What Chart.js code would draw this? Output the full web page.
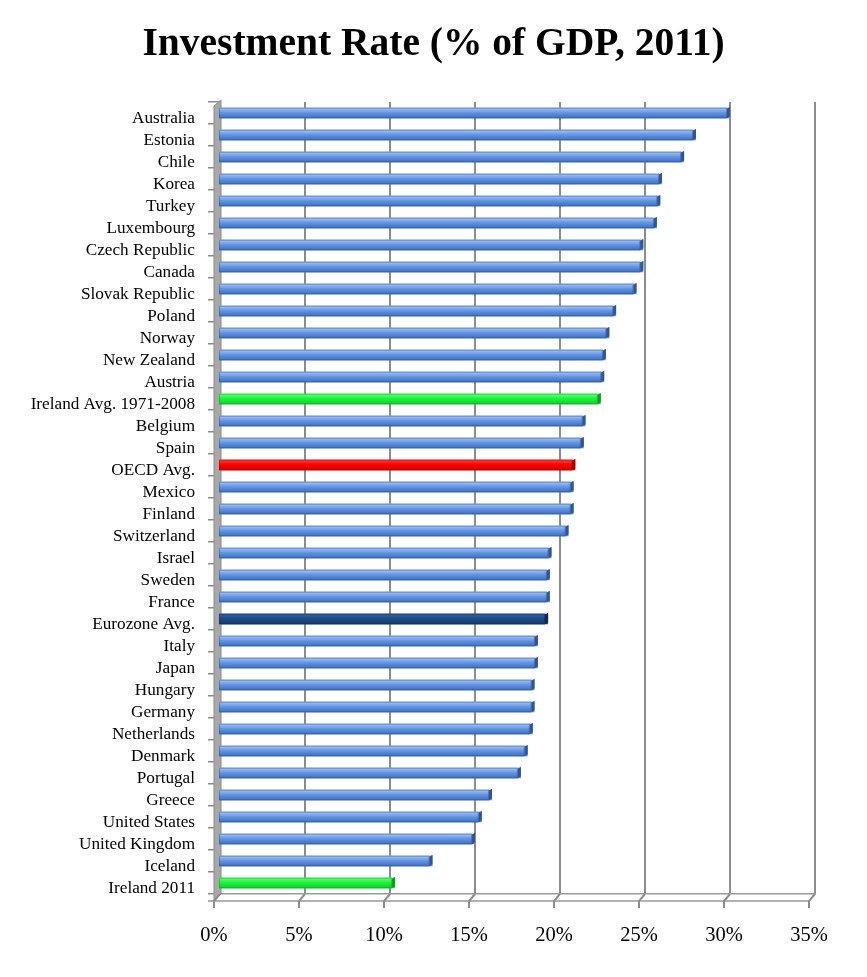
<!DOCTYPE html>
<html>
<head>
<meta charset="utf-8">
<script src="https://cdn.jsdelivr.net/npm/chart.js@4.4.1/dist/chart.umd.min.js"></script>
<style>
  body { margin: 0; background: #fff; }
  #wrap { width: 867px; height: 977px; }
</style>
</head>
<body>
<div id="wrap"><canvas id="myChart"></canvas></div>
<script>
// data
const countries = [
  "Australia", "Estonia", "Chile", "Korea", "Turkey", "Luxembourg",
  "Czech Republic", "Canada", "Slovak Republic", "Poland", "Norway",
  "New Zealand", "Austria", "Ireland Avg. 1971-2008", "Belgium", "Spain",
  "OECD Avg.", "Mexico", "Finland", "Switzerland", "Israel", "Sweden",
  "France", "Eurozone Avg.", "Italy", "Japan", "Hungary", "Germany",
  "Netherlands", "Denmark", "Portugal", "Greece", "United States",
  "United Kingdom", "Iceland", "Ireland 2011"
];
const investRate = [
  30.0, 28.0, 27.3, 26.0, 25.9, 25.7,
  24.9, 24.9, 24.5, 23.3, 22.9,
  22.7, 22.6, 22.4, 21.5, 21.4,
  20.9, 20.8, 20.8, 20.5, 19.5, 19.4,
  19.4, 19.3, 18.7, 18.7, 18.5, 18.5,
  18.4, 18.1, 17.7, 16.0, 15.4,
  15.0, 12.5, 10.3
];
const xTicks = [0, 5, 10, 15, 20, 25, 30, 35];
const chartTitle = "Investment Rate (% of GDP, 2011)";

// colour scheme per kind of bar
const shades = {
  blue:  { top: "#a9c6f5", mid: "#6697e3", bot: "#3b6cc0", cap: "#2f5595", base: "#5b8ede" },
  green: { top: "#6dff7e", mid: "#1af53a", bot: "#12cc2e", cap: "#0d9a22", base: "#1af53a" },
  red:   { top: "#ff4a4a", mid: "#ff0000", bot: "#d40000", cap: "#9e0000", base: "#ff0000" },
  navy:  { top: "#3565a6", mid: "#1f4a86", bot: "#163a6c", cap: "#0f2a50", base: "#1f4a86" }
};
function kindOf(name) {
  if (name.indexOf("Ireland") === 0) return "green";
  if (name === "OECD Avg.") return "red";
  if (name === "Eurozone Avg.") return "navy";
  return "blue";
}

const serif = "'Liberation Serif', 'DejaVu Serif', serif";

// grey side wall, floor edge, shaded bar faces and the page-centred title
const decor = {
  id: "decor",
  beforeDatasetsDraw(chart) {
    const { ctx, chartArea: a } = chart;
    const xs = chart.scales.x;
    ctx.save();
    // left wall
    ctx.beginPath();
    ctx.moveTo(a.left - 6, a.top + 4);
    ctx.lineTo(a.left + 1, a.top - 2);
    ctx.lineTo(a.left + 1, a.bottom);
    ctx.lineTo(a.left - 6, a.bottom + 7);
    ctx.closePath();
    ctx.fillStyle = "#a8a8a8";
    ctx.fill();
    ctx.strokeStyle = "#8a8a8a";
    ctx.lineWidth = 1;
    ctx.stroke();
    // floor front edge
    ctx.strokeStyle = "#999";
    ctx.lineWidth = 1.5;
    ctx.beginPath();
    ctx.moveTo(a.left - 12, a.bottom + 7);
    ctx.lineTo(a.right - 6, a.bottom + 7);
    ctx.stroke();
    ctx.strokeStyle = "#8c8c8c";
    ctx.lineWidth = 2;
    xTicks.forEach(v => {
      const x = xs.getPixelForValue(v);
      ctx.beginPath();
      ctx.moveTo(x, a.bottom);
      ctx.lineTo(x - 6, a.bottom + 7);
      ctx.lineTo(x - 6, a.bottom + 14);
      ctx.stroke();
    });
    ctx.restore();
  },
  afterDatasetsDraw(chart) {
    const { ctx } = chart;
    const meta = chart.getDatasetMeta(0);
    ctx.save();
    meta.data.forEach((bar, i) => {
      const s = shades[kindOf(countries[i])];
      const h = bar.height;
      const y0 = bar.y - h / 2;
      const x0 = bar.base;
      const x1 = bar.x;
      const g = ctx.createLinearGradient(0, y0, 0, y0 + h);
      g.addColorStop(0, s.top);
      g.addColorStop(0.45, s.mid);
      g.addColorStop(1, s.bot);
      ctx.fillStyle = g;
      ctx.fillRect(x0 - 2, y0, x1 - x0 - 1, h);
      ctx.strokeStyle = s.cap;
      ctx.globalAlpha = 0.5;
      ctx.lineWidth = 1;
      ctx.strokeRect(x0 - 2 + 0.5, y0 + 0.5, x1 - x0 - 2, h - 1);
      ctx.globalAlpha = 1;
      // right end cap
      ctx.fillStyle = s.cap;
      ctx.beginPath();
      ctx.moveTo(x1 - 3, y0 + 1);
      ctx.lineTo(x1, y0 - 1);
      ctx.lineTo(x1, y0 + h - 2);
      ctx.lineTo(x1 - 3, y0 + h);
      ctx.closePath();
      ctx.fill();
    });
    ctx.restore();
  },
  afterDraw(chart) {
    const { ctx } = chart;
    ctx.save();
    ctx.font = "bold 39.5px " + serif;
    ctx.fillStyle = "#000";
    ctx.textAlign = "center";
    ctx.textBaseline = "middle";
    ctx.fillText(chartTitle, chart.width / 2, 45);
    ctx.restore();
  }
};

new Chart("myChart", {
  type: "bar",
  data: {
    labels: countries,
    datasets: [{
      label: "Investment rate",
      data: investRate,
      backgroundColor: countries.map(c => shades[kindOf(c)].base),
      barPercentage: 0.48,
      categoryPercentage: 1.0
    }]
  },
  options: {
    indexAxis: "y",
    responsive: true,
    maintainAspectRatio: false,
    animation: false,
    layout: { padding: { left: 0, right: 52, top: 102, bottom: 0 } },
    plugins: {
      legend: { display: false },
      tooltip: { enabled: false },
      title: { display: false }
    },
    scales: {
      x: {
        min: 0,
        max: 35,
        afterFit(scale) { scale.height = 83; },
        afterBuildTicks(scale) { scale.ticks = xTicks.map(v => ({ value: v })); },
        ticks: {
          callback: v => v + "%",
          color: "#000",
          font: { family: serif, size: 20.5 },
          padding: 29,
          labelOffset: -6,
          maxRotation: 0
        },
        grid: { color: "#8c8c8c", lineWidth: 2, drawTicks: false },
        border: { display: true, color: "#999", width: 1.5 }
      },
      y: {
        afterFit(scale) { scale.width = 220; },
        ticks: {
          color: "#000",
          font: { family: serif, size: 17.2 },
          padding: 13,
          labelOffset: 5,
          autoSkip: false
        },
        grid: { drawOnChartArea: false, drawTicks: true, tickLength: 12, color: "#8c8c8c", lineWidth: 1.5 },
        border: { display: false }
      }
    }
  },
  plugins: [decor]
});
</script>
</body>
</html>
